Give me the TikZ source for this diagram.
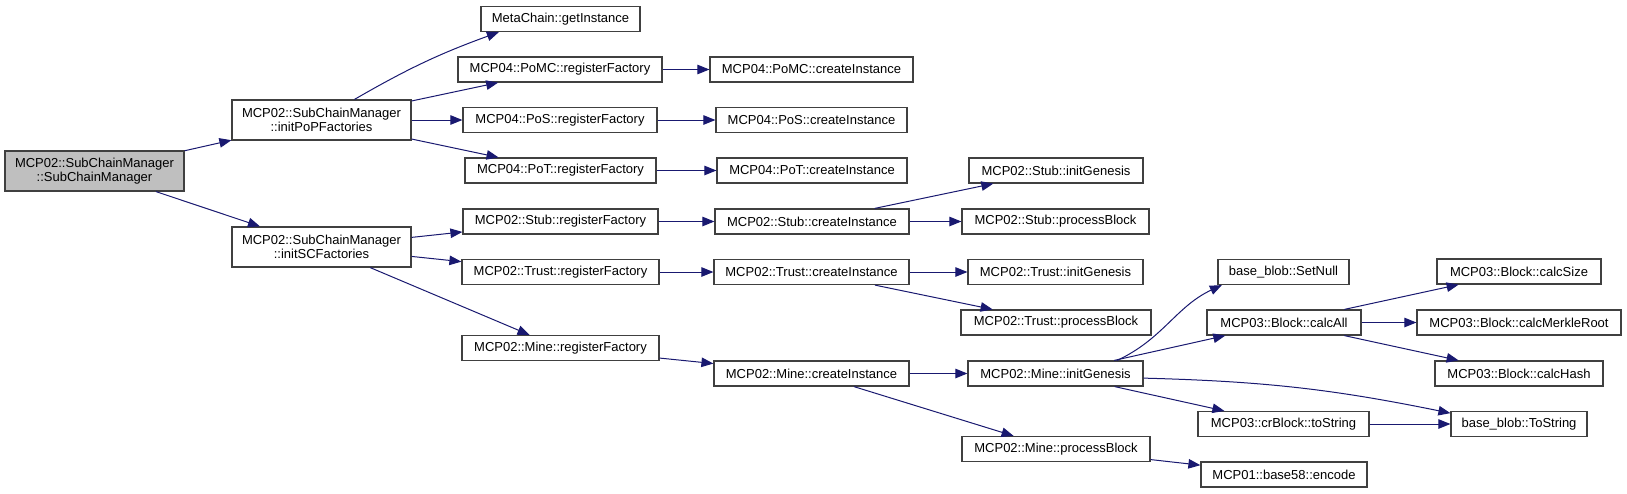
\documentclass[tikz,border=0pt]{standalone}
\usepackage{fontspec}
\setmainfont{Liberation Sans}
\usepackage{tikz}
\usetikzlibrary{arrows.meta, shapes}
\definecolor{edgeblue}{RGB}{25, 25, 112}
\definecolor{boxgray}{RGB}{64, 64, 64}
\definecolor{rootfill}{RGB}{191, 191, 191}
\tikzset{
  fn/.style={draw=boxgray, line width=1.2pt, rectangle, fill=white, inner xsep=4pt, inner ysep=0pt,
    minimum height=25pt, align=center, font=\fontsize{13}{14.5}\selectfont},
  fntwo/.style={fn, minimum height=40pt},
  call/.style={draw=edgeblue, line width=1pt, -{Triangle[length=12pt, width=9.5pt]}}
}

\begin{document}
\begin{tikzpicture}[x=1pt, y=1pt]
  \useasboundingbox (0,0) rectangle (1627,-493);
  % first column
  \node[fntwo, fill=rootfill, minimum width=179pt] (rootmgr) at (94.5,-171) {MCP02::SubChainManager\\::SubChainManager};
  \node[fntwo, minimum width=179pt] (initpop) at (321.5,-120) {MCP02::SubChainManager\\::initPoPFactories};
  \node[fntwo, minimum width=179pt] (initsc) at (321.5,-247) {MCP02::SubChainManager\\::initSCFactories};
  % register factories
  \node[fn, minimum width=159pt] (getinst) at (560.5,-19) {MetaChain::getInstance};
  \node[fn, minimum width=204pt] (pomcreg) at (560,-69.5) {MCP04::PoMC::registerFactory};
  \node[fn, minimum width=194pt] (posreg) at (560,-120) {MCP04::PoS::registerFactory};
  \node[fn, minimum width=191pt] (potreg) at (560.5,-170.5) {MCP04::PoT::registerFactory};
  \node[fn, minimum width=195pt] (stubreg) at (560.5,-221.5) {MCP02::Stub::registerFactory};
  \node[fn, minimum width=197pt] (trustreg) at (560.5,-272) {MCP02::Trust::registerFactory};
  \node[fn, minimum width=197pt] (minereg) at (560.5,-348) {MCP02::Mine::registerFactory};
  % create instance
  \node[fn, minimum width=203pt] (pomccreate) at (811.5,-69.5) {MCP04::PoMC::createInstance};
  \node[fn, minimum width=191pt] (poscreate) at (811.5,-120) {MCP04::PoS::createInstance};
  \node[fn, minimum width=190pt] (potcreate) at (812,-170.5) {MCP04::PoT::createInstance};
  \node[fn, minimum width=194pt] (stubcreate) at (812,-221.5) {MCP02::Stub::createInstance};
  \node[fn, minimum width=195pt] (trustcreate) at (811.5,-272) {MCP02::Trust::createInstance};
  \node[fn, minimum width=195pt] (minecreate) at (811.5,-373.5) {MCP02::Mine::createInstance};
  % genesis and blocks
  \node[fn, minimum width=174pt] (stubinit) at (1056,-170.5) {MCP02::Stub::initGenesis};
  \node[fn, minimum width=187pt] (stubproc) at (1055.5,-221.5) {MCP02::Stub::processBlock};
  \node[fn, minimum width=175pt] (trustinit) at (1055.5,-272) {MCP02::Trust::initGenesis};
  \node[fn, minimum width=190pt] (trustproc) at (1056,-322.5) {MCP02::Trust::processBlock};
  \node[fn, minimum width=175pt] (mineinit) at (1055.5,-373.5) {MCP02::Mine::initGenesis};
  \node[fn, minimum width=188pt] (mineproc) at (1056,-449) {MCP02::Mine::processBlock};
  \node[fn, minimum width=131pt] (setnull) at (1283.5,-272) {base\_blob::SetNull};
  \node[fn, minimum width=154pt] (calcall) at (1284,-322.5) {MCP03::Block::calcAll};
  \node[fn, minimum width=171pt] (crtostr) at (1283.5,-424) {MCP03::crBlock::toString};
  \node[fn, minimum width=166pt] (encode) at (1284,-474.5) {MCP01::base58::encode};
  \node[fn, minimum width=164pt] (calcsize) at (1519,-271.5) {MCP03::Block::calcSize};
  \node[fn, minimum width=204pt] (merkle) at (1519,-322.5) {MCP03::Block::calcMerkleRoot};
  \node[fn, minimum width=168pt] (calchash) at (1519,-373.5) {MCP03::Block::calcHash};
  \node[fn, minimum width=136pt] (tostring) at (1519,-424) {base\_blob::ToString};
  % calls
  \draw[call] (rootmgr) -- (initpop);
  \draw[call] (rootmgr) -- (initsc);
  \draw[call] (initpop.32) to[out=30, in=200] (getinst.192);
  \draw[call] (initpop) -- (pomcreg);
  \draw[call] (initpop) -- (posreg);
  \draw[call] (initpop) -- (potreg);
  \draw[call] (initsc) -- (stubreg);
  \draw[call] (initsc) -- (trustreg);
  \draw[call] (initsc) -- (minereg);
  \draw[call] (pomcreg) -- (pomccreate);
  \draw[call] (posreg) -- (poscreate);
  \draw[call] (potreg) -- (potcreate);
  \draw[call] (stubreg) -- (stubcreate);
  \draw[call] (trustreg) -- (trustcreate);
  \draw[call] (minereg) -- (minecreate);
  \draw[call] (stubcreate) -- (stubinit);
  \draw[call] (stubcreate) -- (stubproc);
  \draw[call] (trustcreate) -- (trustinit);
  \draw[call] (trustcreate) -- (trustproc);
  \draw[call] (minecreate) -- (mineinit);
  \draw[call] (minecreate) -- (mineproc);
  \draw[call] (mineinit.12) to[out=25, in=205] (setnull.192);
  \draw[call] (mineinit) -- (calcall);
  \draw[call] (mineinit.-3) to[bend left=5] (tostring.171);
  \draw[call] (mineinit) -- (crtostr);
  \draw[call] (mineproc) -- (encode);
  \draw[call] (calcall) -- (calcsize);
  \draw[call] (calcall) -- (merkle);
  \draw[call] (calcall) -- (calchash);
  \draw[call] (crtostr) -- (tostring);
\end{tikzpicture}
\end{document}
